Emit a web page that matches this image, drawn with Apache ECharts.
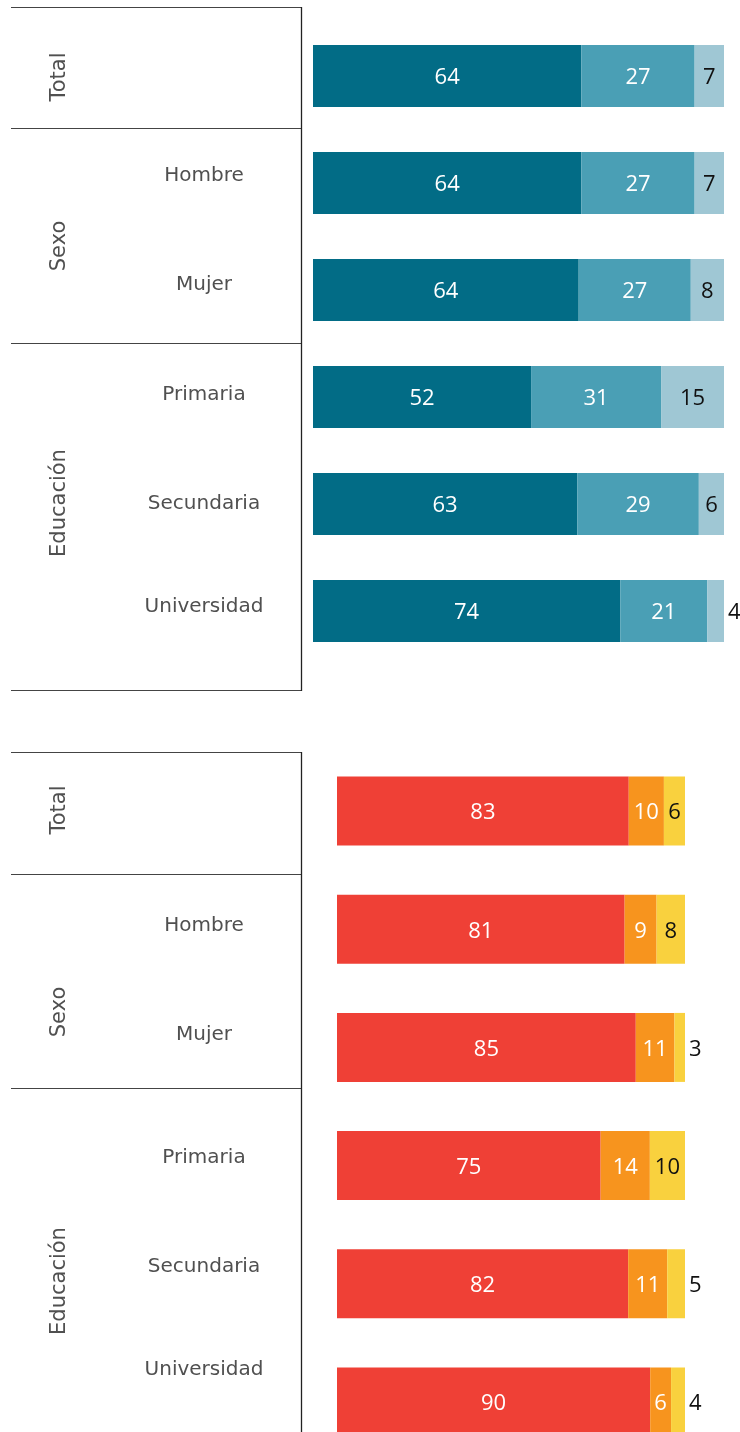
<!DOCTYPE html>
<html><head><meta charset="utf-8">
<script src="https://cdn.jsdelivr.net/npm/echarts@6/dist/echarts.min.js"></script>
<style>html,body{margin:0;padding:0;background:#fff}#c{width:740px;height:1432px}</style>
</head><body><div id="c"></div>
<script>
// ---- data ----
const groupLabels = ['Total', 'Sexo', 'Educación'];
const categories = ['Total', 'Hombre', 'Mujer', 'Primaria', 'Secundaria', 'Universidad'];
const topA = [64, 64, 64, 52, 63, 74];
const topB = [27, 27, 27, 31, 29, 21];
const topC = [7, 7, 8, 15, 6, 4];
const botA = [83, 81, 85, 75, 82, 90];
const botB = [10, 9, 11, 14, 11, 6];
const botC = [6, 8, 3, 10, 5, 4];

// ---- layout / style ----
const topColors = ['#026c86', '#4a9fb5', '#9fc7d4'];
const botColors = ['#ef4036', '#f7941e', '#f9d13e'];
const labelFont = 'Open Sans';
const textFont = 'DejaVu Sans';

function buildSeries(gi, parts, colors, barW) {
  const labelColors = ['#ffffff', '#ffffff', '#111111'];
  return parts.map((arr, k) => ({
    type: 'bar', xAxisIndex: gi, yAxisIndex: gi, stack: 'g' + gi, barWidth: barW,
    itemStyle: { color: colors[k] },
    label: { show: true, position: 'inside', offset: [0, 2], color: labelColors[k], fontFamily: labelFont, fontSize: 22,
             formatter: p => String(p.data.raw) },
    data: arr.map((v, i) => {
      const sum = parts[0][i] + parts[1][i] + parts[2][i];
      const item = { value: v / sum * 100, raw: v };
      if (k === 2 && v < 6) item.label = { position: 'right', distance: 4 };
      return item;
    })
  }));
}

// panel geometry (table on the left)
const panels = [
  { top: 7, bottom: 690, seps: [128, 343], groupY: [77, 246, 503], catY: [null, 176, 285, 395, 504, 607], drawBottom: true },
  { top: 752, bottom: 1432, seps: [874, 1088], groupY: [810, 1012, 1281], catY: [null, 926, 1035, 1158, 1267, 1370], drawBottom: false }
];
const graphics = [];
panels.forEach(p => {
  const hs = [p.top].concat(p.seps);
  if (p.drawBottom) hs.push(p.bottom);
  hs.forEach(y => graphics.push({ type: 'line', shape: { x1: 11, y1: y + 0.5, x2: 301.5, y2: y + 0.5 },
    style: { stroke: '#444', lineWidth: 1 } }));
  graphics.push({ type: 'line', shape: { x1: 301.5, y1: p.top, x2: 301.5, y2: p.bottom + 1 },
    style: { stroke: '#222', lineWidth: 1.3 } });
  groupLabels.forEach((g, i) => graphics.push({ type: 'text', x: 60, y: p.groupY[i], rotation: Math.PI / 2,
    style: { text: g, font: '21px "' + textFont + '"', fill: '#505050', align: 'center', verticalAlign: 'middle' } }));
  categories.forEach((c, i) => { if (p.catY[i] == null) return;
    graphics.push({ type: 'text', x: 204, y: p.catY[i],
      style: { text: c, font: '20px "' + textFont + '"', fill: '#505050', align: 'center', verticalAlign: 'middle' } }); });
});

const chart = echarts.init(document.getElementById('c'), null, { renderer: 'canvas' });
chart.setOption({
  animation: false,
  backgroundColor: '#fff',
  grid: [
    { left: 313, right: 16, top: 22.5, height: 642, outerBoundsMode: 'none' },
    { left: 337, right: 55, top: 752, height: 709, outerBoundsMode: 'none' }
  ],
  xAxis: [
    { gridIndex: 0, type: 'value', min: 0, max: 100, show: false },
    { gridIndex: 1, type: 'value', min: 0, max: 100, show: false }
  ],
  yAxis: [
    { gridIndex: 0, type: 'category', data: categories, inverse: true, show: false },
    { gridIndex: 1, type: 'category', data: categories, inverse: true, show: false }
  ],
  series: buildSeries(0, [topA, topB, topC], topColors, 62)
    .concat(buildSeries(1, [botA, botB, botC], botColors, 69)),
  graphic: graphics
});
</script></body></html>
